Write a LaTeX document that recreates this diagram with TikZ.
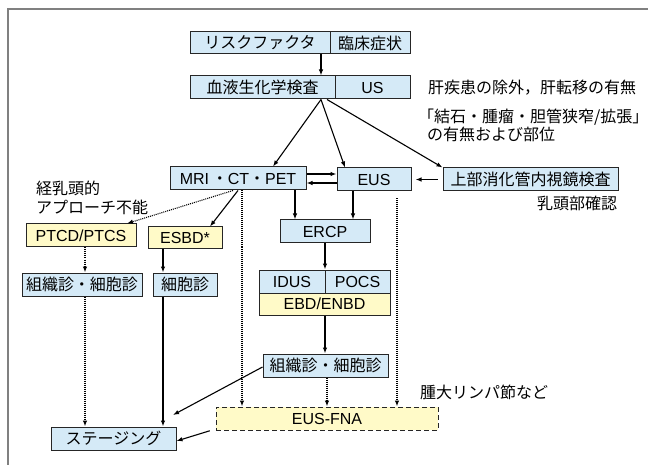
\documentclass[tikz,border=0pt]{standalone}
\usepackage{fontspec}
\setmainfont{Noto Sans CJK JP}
\newfontfamily\lat{Liberation Sans}
\usetikzlibrary{arrows.meta}
\definecolor{bfill}{HTML}{D5EAF7}
\definecolor{yfill}{HTML}{FFFAC8}
\definecolor{framec}{HTML}{808080}
\tikzset{
  bx/.style={draw=black!85, line width=1pt, inner sep=0pt, minimum height=23pt, font=\fontsize{16}{18}\selectfont},
  bb/.style={bx, fill=bfill},
  yb/.style={bx, fill=yfill},
  arr/.style={line width=1.1pt, -{Latex[length=6pt,width=4.5pt]}},
  darr/.style={line width=1.1pt, dash pattern=on 1pt off 1pt, -{Latex[length=6pt,width=4.5pt]}},
  lbl/.style={font=\fontsize{16}{19}\selectfont, inner sep=0pt, anchor=west}
}
\begin{document}
\begin{tikzpicture}[x=1pt,y=-1pt]
\useasboundingbox (0,0) rectangle (648,465);
\draw[framec, line width=2pt] (7.5,466) -- (7.5,9.5) -- (649,9.5);

% boxes
\node[bb, minimum width=140pt, minimum height=22pt] (rf) at (260,43) {リスクファクタ};
\node[bb, minimum width=80pt, minimum height=22pt] (rs) at (370,43) {臨床症状};
\node[bb, minimum width=145pt] (bl) at (262.5,87.5) {血液生化学検査};
\node[bb, minimum width=75pt] (us) at (372.5,87.5) {\lat US};
\node[bb, minimum width=136pt] (mri) at (238,178.5) {{\lat MRI}\,・{\lat CT}・{\lat PET}};
\node[bb, minimum width=74pt] (eus) at (374,179.5) {\lat EUS};
\node[bb, minimum width=175pt] (ugi) at (530.5,179.5) {上部消化管内視鏡検査};
\node[yb, minimum width=110pt] (ptcd) at (81,235.5) {\lat PTCD/PTCS};
\node[yb, minimum width=74pt, minimum height=22pt] (esbd) at (185,238) {\lat ESBD*};
\node[bb, minimum width=90pt] (ercp) at (325,231.5) {\lat ERCP};
\node[bb, minimum width=66pt] (idus) at (292,281.5) {\lat IDUS};
\node[bb, minimum width=65pt] (pocs) at (357.5,281.5) {\lat POCS};
\node[yb, minimum width=131pt, minimum height=22pt] (ebd) at (324.5,304) {\lat EBD/ENBD};
\node[bb, minimum width=120pt] (ts1) at (82,284.5) {組織診・細胞診};
\node[bb, minimum width=64pt] (sb) at (185,284.5) {細胞診};
\node[bb, minimum width=125pt] (ts2) at (325.5,365.5) {組織診・細胞診};
\node[yb, dash pattern=on 5pt off 3pt, minimum width=222pt] (fna) at (327,418.5) {\lat EUS-FNA};
\node[bb, minimum width=125pt] (stg) at (113.5,438.5) {ステージング};

% labels
\node[lbl] (t1) at (428,88) {肝疾患の除外，肝転移の有無};
\node[lbl] (t2) at (418,117) {「結石・腫瘤・胆管狭窄/拡張」};
\node[lbl] (t3) at (427,134) {の有無および部位};
\node[lbl, align=left] (t4) at (36,197.5) {経乳頭的\\アプローチ不能};
\node[lbl] (t5) at (537,203) {乳頭部確認};
\node[lbl] (t6) at (420,392) {腫大リンパ節など};

% helper coordinates
\coordinate (xa) at (321,0);
\coordinate (xb) at (327,0);
\coordinate (xc) at (273,0);
\coordinate (xd) at (345,0);
\coordinate (xe) at (233,0);
\coordinate (xf) at (127,0);
\coordinate (xh) at (210,0);
\coordinate (xi) at (242,0);
\coordinate (xj) at (295,0);
\coordinate (xk) at (353,0);
\coordinate (xl) at (397,0);
\coordinate (xm) at (325,0);
\coordinate (xn) at (85,0);
\coordinate (xo) at (163,0);
\coordinate (ya) at (0,174);
\coordinate (yb) at (0,183);
\coordinate (yc) at (0,367);
\coordinate (yd) at (0,429);
\coordinate (e1) at (173,415);

% connectors
\draw[arr] (rf.south -| xa) -- (bl.north -| xa);
\draw[arr] (bl.south -| xa) -- (mri.north -| xc);
\draw[arr] (bl.south -| xa) -- (eus.north -| xd);
\draw[arr] (bl.south -| xb) -- (ugi.north west);
\draw[arr] (mri.east |- ya) -- (eus.west |- ya);
\draw[arr] (eus.west |- yb) -- (mri.east |- yb);
\draw[arr, shorten <=5pt, shorten >=4pt] (ugi.west) -- (eus.east);
\draw[darr] (mri.south -| xe) -- (ptcd.north -| xf);
\draw[arr] (mri.south) -- (esbd.north -| xh);
\draw[darr] (mri.south -| xi) -- (fna.north -| xi);
\draw[arr] (mri.south -| xj) -- (ercp.north -| xj);
\draw[arr] (eus.south -| xk) -- (ercp.north -| xk);
\draw[darr, shorten <=7pt] (eus.south -| xl) -- (fna.north -| xl);
\draw[arr] (ercp.south -| xm) -- (idus.north -| xm);
\draw[darr] (ptcd.south -| xn) -- (ts1.north -| xn);
\draw[arr] (esbd.south -| xo) -- (sb.north -| xo);
\draw[arr] (ebd.south -| xm) -- (ts2.north -| xm);
\draw[darr] (ts1.south -| xn) -- (stg.north -| xn);
\draw[arr] (sb.south -| xo) -- (stg.north -| xo);
\draw[arr] (ts2.west |- yc) -- (e1);
\draw[darr] (ts2.south -| xb) -- (fna.north -| xb);
\draw[arr, shorten <=6pt] (fna.west |- yd) -- ([yshift=-2.5pt]stg.east);
\end{tikzpicture}
\end{document}
